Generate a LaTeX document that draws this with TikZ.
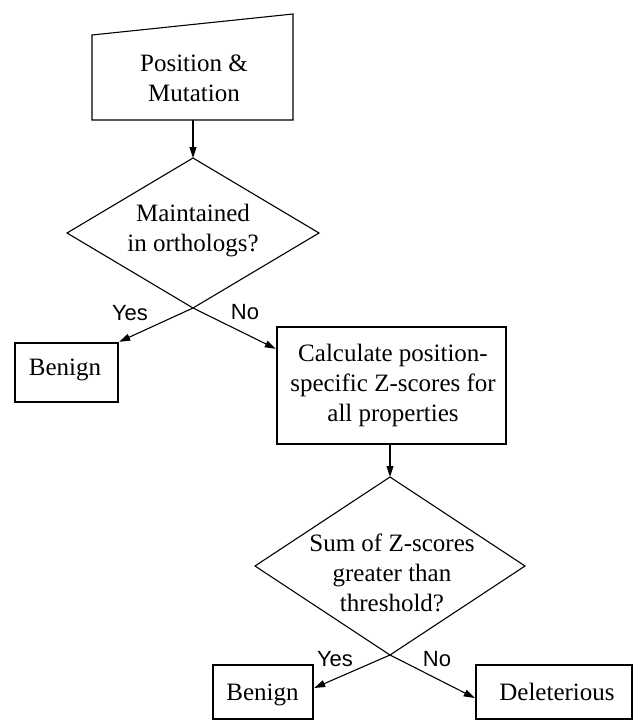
\documentclass[tikz,border=0pt]{standalone}
\usepackage{fontspec}
\setmainfont{Liberation Serif}
\newfontfamily\labelfont{Liberation Sans}
\usetikzlibrary{arrows.meta}
\begin{document}
\begin{tikzpicture}[x=1pt,y=-1pt,
  thinline/.style={line width=1.1pt},
  thickbox/.style={draw, line width=2.4pt, fill=white, inner sep=0pt},
  txt/.style={align=center, font=\fontsize{25}{30}\selectfont, inner sep=0pt},
  lbl/.style={font=\labelfont\fontsize{22}{26}\selectfont, inner sep=0pt},
  arr/.style={thinline, -{Triangle[length=11pt,width=7pt]}}]
\useasboundingbox (0,0) rectangle (633,720);
\fill[white] (0,0) rectangle (633,720);
% input trapezoid
\draw[thinline] (92,35) -- (293,14) -- (293,120) -- (92,120) -- cycle;
\node[txt] (inp) at (194,78.5) {Position \&\\Mutation};
\coordinate (t1b) at (193,120);
% diamond 1
\coordinate (d1t) at (193,158);
\coordinate (d1r) at (319,233);
\coordinate (d1b) at (193,308);
\coordinate (d1l) at (67,233);
\draw[thinline] (d1t) -- (d1r) -- (d1b) -- (d1l) -- cycle;
\node[txt] (q1) at (193,231) {Maintained\\in orthologs?};
% boxes
\node[thickbox, minimum width=103pt, minimum height=59pt] (b1) at (66.5,372.5) {};
\node[txt, anchor=base] (b1t) at (65,375) {Benign};
\node[thickbox, minimum width=229pt, minimum height=117pt] (calc) at (391.5,385.5) {};
\node[txt] (calct) at (393,385) {Calculate position-\\specific Z-scores for\\all properties};
% diamond 2
\coordinate (d2t) at (390,477);
\coordinate (d2r) at (525,566);
\coordinate (d2b) at (390,655);
\coordinate (d2l) at (255,566);
\draw[thinline] (d2t) -- (d2r) -- (d2b) -- (d2l) -- cycle;
\node[txt] (q2) at (392,573) {Sum of Z-scores\\greater than\\threshold?};
\node[thickbox, minimum width=100pt, minimum height=54pt] (b2) at (263,692) {};
\node[txt, anchor=base] (b2t) at (262.5,700) {Benign};
\node[thickbox, minimum width=156pt, minimum height=54pt] (del) at (554,692) {};
\node[txt, anchor=base] (delt) at (557,700) {Deleterious};
% connectors
\draw[arr] (t1b) -- (d1t);
\draw[arr] (d1b) -- (b1.north east);
\draw[arr] (d1b) -- ([yshift=-23pt]calc.north west);
\draw[arr] (d2t |- calc.south) -- (d2t);
\draw[arr] (d2b) -- ([yshift=4pt]b2.east);
\draw[arr] (d2b) -- ([yshift=-6pt]del.west);
% labels
\node[lbl] (yes1) at (130,313) {Yes};
\node[lbl] (no1) at (245,312) {No};
\node[lbl] (yes2) at (335,659) {Yes};
\node[lbl] (no2) at (437,659) {No};
\end{tikzpicture}
\end{document}
